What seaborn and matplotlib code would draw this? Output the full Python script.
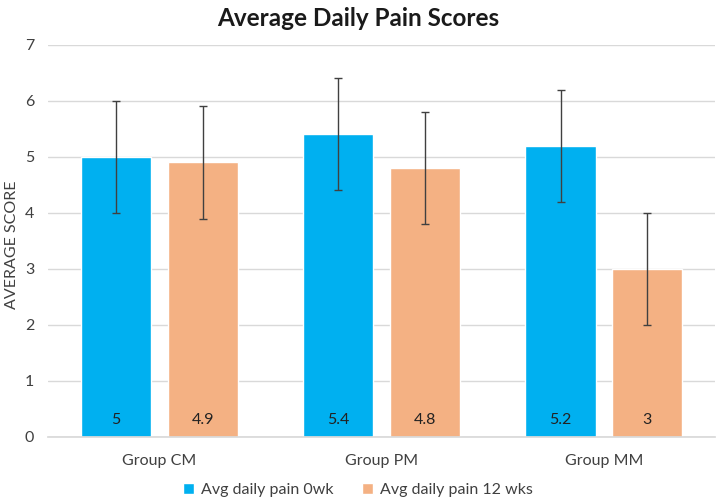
import pandas as pd
import matplotlib
import matplotlib.pyplot as plt
import seaborn as sns

matplotlib.use('Agg')

# data
groups = ["Group CM", "Group PM", "Group MM"]
series_names = ["Avg daily pain 0wk", "Avg daily pain 12 wks"]
pain_0wk = [5.0, 5.4, 5.2]
pain_12wk = [4.9, 4.8, 3.0]
err_0wk = [1.0, 1.0, 1.0]
err_12wk = [1.0, 1.0, 1.0]

df = pd.DataFrame({
    "group": groups * 2,
    "series": [series_names[0]] * 3 + [series_names[1]] * 3,
    "score": pain_0wk + pain_12wk,
    "err": err_0wk + err_12wk,
})

sns.set_theme(style="white")
plt.rcParams['font.family'] = ['Lato', 'DejaVu Sans']

colors = {series_names[0]: '#00B0F0', series_names[1]: '#F4B183'}
text_col = '#404040'
grid_col = '#D9D9D9'

fig, ax = plt.subplots(figsize=(7.2, 5.04), dpi=100)
fig.subplots_adjust(left=0.067, right=0.993, bottom=0.133, top=0.911)

sns.barplot(data=df, x="group", y="score", hue="series", palette=colors,
            width=0.78, gap=0.19, errorbar=None, saturation=1, ax=ax, zorder=2,
            order=groups, hue_order=series_names)

# error bars and value labels at the bottom of the bars
bars = [p for p in ax.patches if p.get_height() > 0]
for s_idx, name in enumerate(series_names):
    sub = df[df["series"] == name]
    for g_idx in range(len(groups)):
        bar = bars[s_idx * len(groups) + g_idx]
        cx = bar.get_x() + bar.get_width() / 2
        val = sub["score"].iloc[g_idx]
        ax.errorbar(cx, val, yerr=sub["err"].iloc[g_idx], fmt='none',
                    ecolor='#404040', elinewidth=1, capsize=3, capthick=1, zorder=3)
        ax.text(cx, 0.3, f"{val:g}", ha='center', va='center',
                fontsize=11.5, color='#222222', zorder=4)

ax.set_ylim(0, 7)
ax.set_xlim(-0.5, 2.5)
ax.set_yticks(range(0, 8))
ax.yaxis.grid(True, color=grid_col, linewidth=1, zorder=0)
ax.set_axisbelow(True)
for side in ['left', 'right', 'top']:
    ax.spines[side].set_visible(False)
ax.spines['bottom'].set_color(grid_col)
ax.tick_params(axis='both', length=0, labelsize=11.5, labelcolor=text_col)
ax.tick_params(axis='x', pad=12)
ax.tick_params(axis='y', pad=10)

ax.set_xlabel("")
ax.set_ylabel("AVERAGE SCORE", fontsize=11.5, color=text_col)
ax.yaxis.set_label_coords(-0.044, 0.49)
fig.suptitle("Average Daily Pain Scores", x=0.497, y=0.963, va='center',
             fontsize=17.5, fontweight='bold', color='#1a1a1a')

handles, labels = ax.get_legend_handles_labels()
ax.get_legend().remove()
fig.legend(handles, labels, loc='center', bbox_to_anchor=(0.497, 0.028),
           ncol=2, frameon=False, fontsize=11.5, handlelength=0.7, handleheight=0.7,
           handletextpad=0.4, columnspacing=1.8, labelcolor=text_col)

plt.savefig("out.png", dpi=100)
plt.close('all')
